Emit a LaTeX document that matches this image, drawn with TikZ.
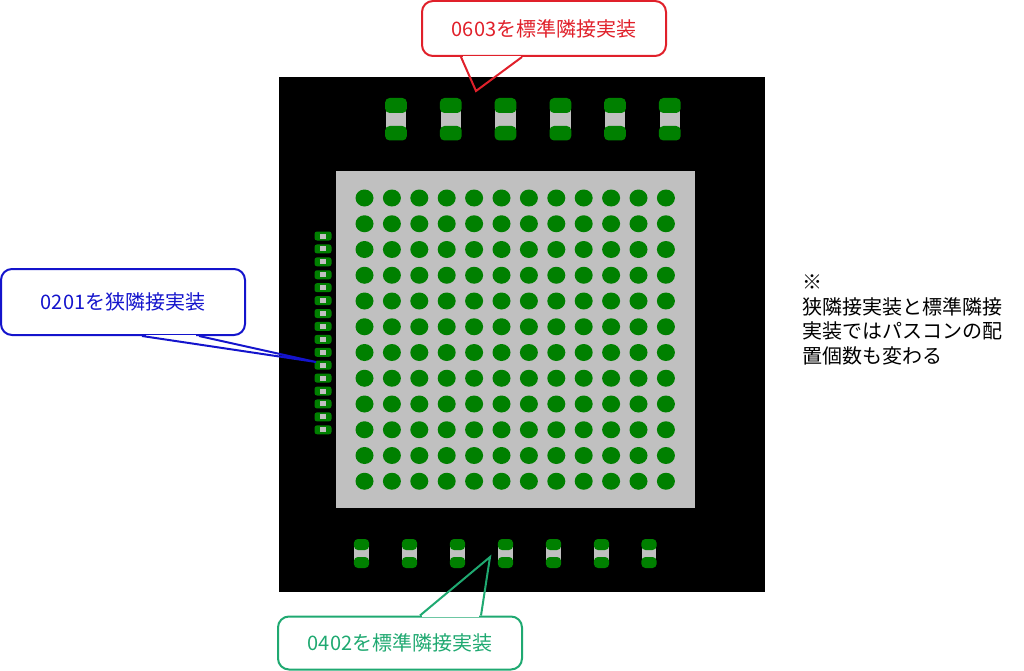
\documentclass[tikz,border=0pt]{standalone}
\usepackage{fontspec}
\setmainfont{Noto Sans CJK JP}
\usetikzlibrary{calc,positioning}
\definecolor{padgreen}{HTML}{008000}
\definecolor{bodygray}{HTML}{C0C0C0}
\definecolor{calloutred}{HTML}{E0202A}
\definecolor{calloutblue}{HTML}{1414CC}
\definecolor{calloutgreen}{HTML}{1FA971}
\tikzset{
    pad/.style={fill=padgreen},
    body/.style={fill=bodygray},
    callout/.style={draw=#1,text=#1,line width=2pt,rounded corners=11pt,
        minimum width=244pt,inner sep=0pt},
    tail/.style={draw=#1,line width=2pt,line join=miter}
}
\begin{document}
\begin{tikzpicture}[x=1pt,y=-1pt,font=\fontsize{20}{24.7}\selectfont]
\useasboundingbox (0,0) rectangle (1024,671);

% Board and package
\fill[black] (279,77) rectangle (765,592);
\fill[body] (336,171) rectangle (695,508);

% Balls
\foreach \i in {0,...,11}
  \foreach \j in {0,...,11}
    \fill[pad] ({364.5+27.4*\i},{198+25.75*\j}) ellipse (9 and 8.5);

% 0603
\foreach \x in {396,450.8,505.5,560.4,615,669.8} {
  \fill[body] (\x-10.2,106) rectangle (\x+10.2,132);
  \fill[pad,rounded corners=4.5pt] (\x-10.9,98) rectangle (\x+10.9,113);
  \fill[pad,rounded corners=4.5pt] (\x-10.9,126) rectangle (\x+10.9,140.5);
}

% 0402
\foreach \x in {361.5,409.5,457.5,505.5,553.5,601.5,649} {
  \fill[body] (\x-7.2,543) rectangle (\x+7.2,564);
  \fill[pad,rounded corners=4pt] (\x-7.6,539) rectangle (\x+7.6,550);
  \fill[pad,rounded corners=4pt] (\x-7.6,557) rectangle (\x+7.6,568);
}

% 0201
\foreach \j in {0,...,15} {
  \fill[pad,rounded corners=2.5pt] (314.5,{231.5+12.92*\j}) rectangle (331.5,{240.5+12.92*\j});
  \fill[body] (319.8,{233.5+12.92*\j}) rectangle (326.2,{238.5+12.92*\j});
}

% Callouts
\node[callout=calloutred,minimum height=55pt] (label0603) at (544,28.5) {0603を標準隣接実装};
\coordinate (tip0603) at (476,91);
\draw[white,line width=2.8pt] ($(label0603.south west)+(42,0)$) -- ($(label0603.south west)+(100,0)$);
\draw[tail=calloutred] ($(label0603.south west)+(40,0)$) -- (tip0603) -- ($(label0603.south west)+(101,0)$);

\node[callout=calloutblue,minimum height=66pt] (label0201) at (123,302) {0201を狭隣接実装};
\coordinate (tip0201) at (316,362);
\draw[white,line width=2.8pt] ($(label0201.south west)+(146,0)$) -- ($(label0201.south west)+(196,0)$);
\draw[tail=calloutblue] ($(label0201.south west)+(142,0)$) -- (tip0201) -- ($(label0201.south west)+(199,0)$);

\node[callout=calloutgreen,minimum height=53pt] (label0402) at (400,643) {0402を標準隣接実装};
\coordinate (tip0402) at (490,557);
\draw[white,line width=2.8pt] ($(label0402.north west)+(145,0)$) -- ($(label0402.north west)+(202,0)$);
\draw[tail=calloutgreen] ($(label0402.north west)+(143,0)$) -- (tip0402) -- ($(label0402.north west)+(204,0)$);

% Note
\node[align=left,inner sep=0pt,anchor=west] (note) at (802,320) {※\\狭隣接実装と標準隣接\\実装ではパスコンの配\\置個数も変わる};

\end{tikzpicture}
\end{document}
